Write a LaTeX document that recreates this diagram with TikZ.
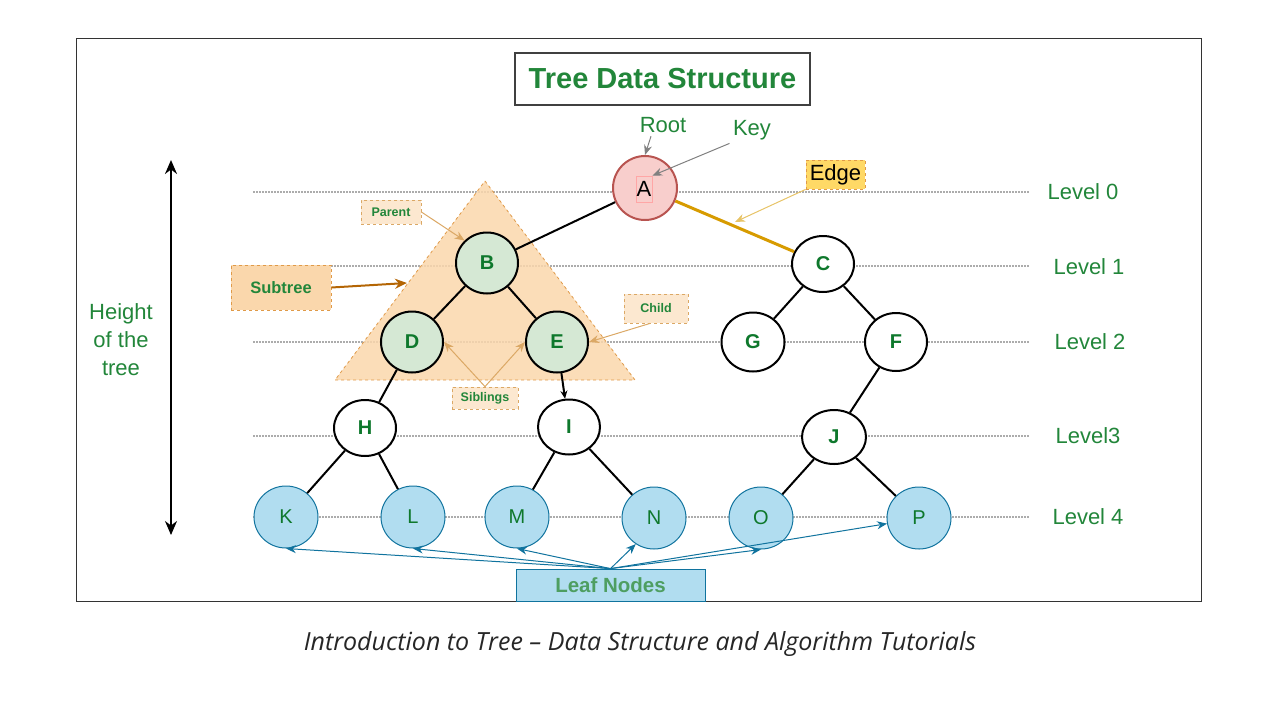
\documentclass[tikz,border=0pt]{standalone}
\usepackage{fontspec}
\setmainfont{Liberation Sans}
\newfontfamily\captionfont{Open Sans}
\usetikzlibrary{shapes.geometric,arrows.meta}

\definecolor{tgreen}{RGB}{34,134,58}
\definecolor{ngreen}{RGB}{14,120,44}
\definecolor{pinkfill}{HTML}{F8CECC}
\definecolor{pinkdraw}{HTML}{B85450}
\definecolor{greenfill}{HTML}{D5E8D4}
\definecolor{bluefill}{HTML}{B1DDF0}
\definecolor{bluedraw}{HTML}{10739E}
\definecolor{orangefill}{HTML}{FAD7AC}
\definecolor{orangedraw}{HTML}{E09A48}
\definecolor{paleorange}{HTML}{FCE8D0}
\definecolor{gold}{HTML}{D79B00}
\definecolor{edgefill}{HTML}{FFD966}
\definecolor{tan}{HTML}{DBA865}
\definecolor{brownarrow}{HTML}{B46504}

\begin{document}
\begin{tikzpicture}[x=1pt,y=-1pt,
	every node/.style={font=\fontsize{22}{28}\selectfont},
	levelline/.style={gray!65, line width=1.5pt, dash pattern=on 1.5pt off 1.5pt},
	levellabel/.style={text=tgreen},
	treeedge/.style={line width=2pt},
	whitenode/.style={ellipse, draw, fill=white, line width=2pt, minimum width=62pt, minimum height=56pt, inner sep=0pt, text=ngreen, font=\bfseries\fontsize{20}{24}\selectfont},
	subnode/.style={whitenode, fill=greenfill, minimum height=61pt},
	leafnode/.style={ellipse, draw=bluedraw, fill=bluefill, line width=1pt, minimum width=64pt, minimum height=62pt, inner sep=0pt, text=ngreen, font=\fontsize{20}{24}\selectfont},
	notebox/.style={draw=tan, dashed, fill=paleorange, line width=0.8pt, inner sep=0pt, text=tgreen, font=\bfseries\fontsize{12.5}{15}\selectfont},
	notearrow/.style={tan, line width=1pt, -{Stealth[length=10pt,width=8pt]}},
	leafarrow/.style={bluedraw, line width=1pt, -{Stealth[length=10pt,width=8pt]}},
	grayarrow/.style={gray, line width=1pt, -{Stealth[length=10pt,width=8pt]}}
	]
	\useasboundingbox (0,0) rectangle (1281,726);
	
	% Рамка и заголовок
	\draw[line width=0.8pt, black!80] (76,38) rectangle (1201,601);
	\node[draw=black!75, line width=1.2pt, minimum width=295pt, minimum height=52pt, text=tgreen, font=\bfseries\fontsize{29}{34}\selectfont] (title) at (662.5,79) {Tree Data Structure};
	
	% Уровни
	\draw[levelline] (253,192) -- (1030,192);
	\draw[levelline] (253,266) -- (1030,266);
	\draw[levelline] (253,342) -- (1030,342);
	\draw[levelline] (253,436) -- (1030,436);
	\draw[levelline] (253,517) -- (1030,517);
	\node[levellabel] (lev0) at (1083,192) {Level 0};
	\node[levellabel] (lev1) at (1089,267) {Level 1};
	\node[levellabel] (lev2) at (1090,342) {Level 2};
	\node[levellabel] (lev3) at (1088,436) {Level3};
	\node[levellabel] (lev4) at (1088,517) {Level 4};
	
	% Поддерево
	\draw[orangedraw, dashed, line width=0.8pt, fill=orangefill, fill opacity=0.85] (485,181) -- (635,380) -- (335,380) -- cycle;
	\coordinate (subtip) at (407,283);
	
	% Вершины
	\node[ellipse, draw=pinkdraw, fill=pinkfill, line width=2pt, minimum width=64pt, minimum height=64pt] (A) at (645,188) {};
	\node[draw=red!35, line width=0.8pt, minimum width=16pt, minimum height=26pt, inner sep=0pt] (Akey) at (644,189) {A};
	\node[subnode] (B) at (487,263) {B};
	\node[whitenode] (C) at (823,264) {C};
	\node[subnode] (D) at (412,342) {D};
	\node[subnode] (E) at (557,342) {E};
	\node[whitenode, minimum width=63pt, minimum height=59pt] (G) at (753,342) {G};
	\node[whitenode, minimum height=58pt] (F) at (896,342) {F};
	\node[whitenode] (H) at (365,428) {H};
	\node[whitenode, minimum height=55pt] (I) at (569,427) {I};
	\node[whitenode, minimum width=64pt, minimum height=54pt] (J) at (834,437) {J};
	\node[leafnode] (K) at (286,517) {K};
	\node[leafnode] (L) at (413,517) {L};
	\node[leafnode] (M) at (517,517) {M};
	\node[leafnode] (N) at (654,518) {N};
	\node[leafnode] (O) at (761,518) {O};
	\node[leafnode] (P) at (919,518) {P};
	
	% Рёбра
	\draw[treeedge] (A) -- (B);
	\draw[treeedge, gold, line width=3pt] (A) -- (C);
	\draw[treeedge] (B) -- (D);
	\draw[treeedge] (B) -- (E);
	\draw[treeedge] (C) -- (G);
	\draw[treeedge] (C) -- (F);
	\draw[treeedge] (D) -- (H);
	\draw[treeedge, -{Stealth[length=8pt,width=7pt]}] (E) -- (I);
	\draw[treeedge] (F) -- (J);
	\draw[treeedge] (H) -- (K);
	\draw[treeedge] (H) -- (L);
	\draw[treeedge] (I) -- (M);
	\draw[treeedge] (I) -- (N);
	\draw[treeedge] (J) -- (O);
	\draw[treeedge] (J) -- (P);
	
	% Подписи
	\node[text=tgreen] (root) at (663,125) {Root};
	\node[text=tgreen] (key) at (752,130) {Key};
	\draw[grayarrow] ([xshift=-12pt]root.south) -- (A.north);
	\draw[grayarrow] (key.south west) -- (Akey.north east);
	
	\node[draw=orangedraw, dashed, fill=edgefill, line width=0.8pt, minimum width=59pt, minimum height=29pt, inner sep=0pt] (edge) at (835.5,174.5) {Edge};
	\coordinate (edgept) at (735,222);
	\draw[notearrow, gold!60] (edge.south west) -- (edgept);
	
	\node[draw=orangedraw, dashed, fill=orangefill, line width=0.8pt, minimum width=100pt, minimum height=45pt, inner sep=0pt, text=tgreen, font=\bfseries\fontsize{16.5}{20}\selectfont] (subtree) at (281,287.5) {Subtree};
	\draw[brownarrow, line width=2pt, -{Stealth[length=12pt,width=10pt]}] (subtree.east) -- (subtip);
	
	\node[notebox, minimum width=60pt, minimum height=24pt] (parent) at (391,212) {Parent};
	\node[notebox, minimum width=64pt, minimum height=29pt] (child) at (656,308.5) {Child};
	\node[notebox, minimum width=66pt, minimum height=22pt] (sib) at (485,398) {Siblings};
	\draw[notearrow] (parent.east) -- (B.135);
	\draw[notearrow] ([xshift=-6pt]child.south) -- (E.east);
	\draw[notearrow] (sib.north) -- (D.east);
	\draw[notearrow] (sib.north) -- (E.west);
	
	% Листья
	\node[draw=bluedraw, fill=bluefill, line width=0.8pt, minimum width=189pt, minimum height=32pt, inner sep=0pt, text=tgreen!80, font=\bfseries\fontsize{20.5}{24}\selectfont] (leaf) at (610.5,585) {Leaf Nodes};
	\draw[leafarrow] (leaf.north) -- (K.south);
	\draw[leafarrow] (leaf.north) -- (L.south);
	\draw[leafarrow] (leaf.north) -- (M.south);
	\draw[leafarrow] (leaf.north) -- (N.235);
	\draw[leafarrow] (leaf.north) -- (O.south);
	\draw[leafarrow] (leaf.north) -- (P.190);
	
	% Высота дерева
	\coordinate (htop) at (171,160);
	\coordinate (hbot) at (171,535);
	\draw[line width=2pt, {Stealth[length=14pt,width=12pt]}-{Stealth[length=14pt,width=12pt]}] (htop) -- (hbot);
	\node[align=center, text=tgreen] (height) at (121,340) {Height\\of the\\tree};
	
	% Подпись под рисунком
	\node[text=black!85, font=\captionfont\itshape\fontsize{25}{30}\selectfont] (caption) at (640,644) {Introduction to Tree – Data Structure and Algorithm Tutorials};
\end{tikzpicture}
\end{document}
